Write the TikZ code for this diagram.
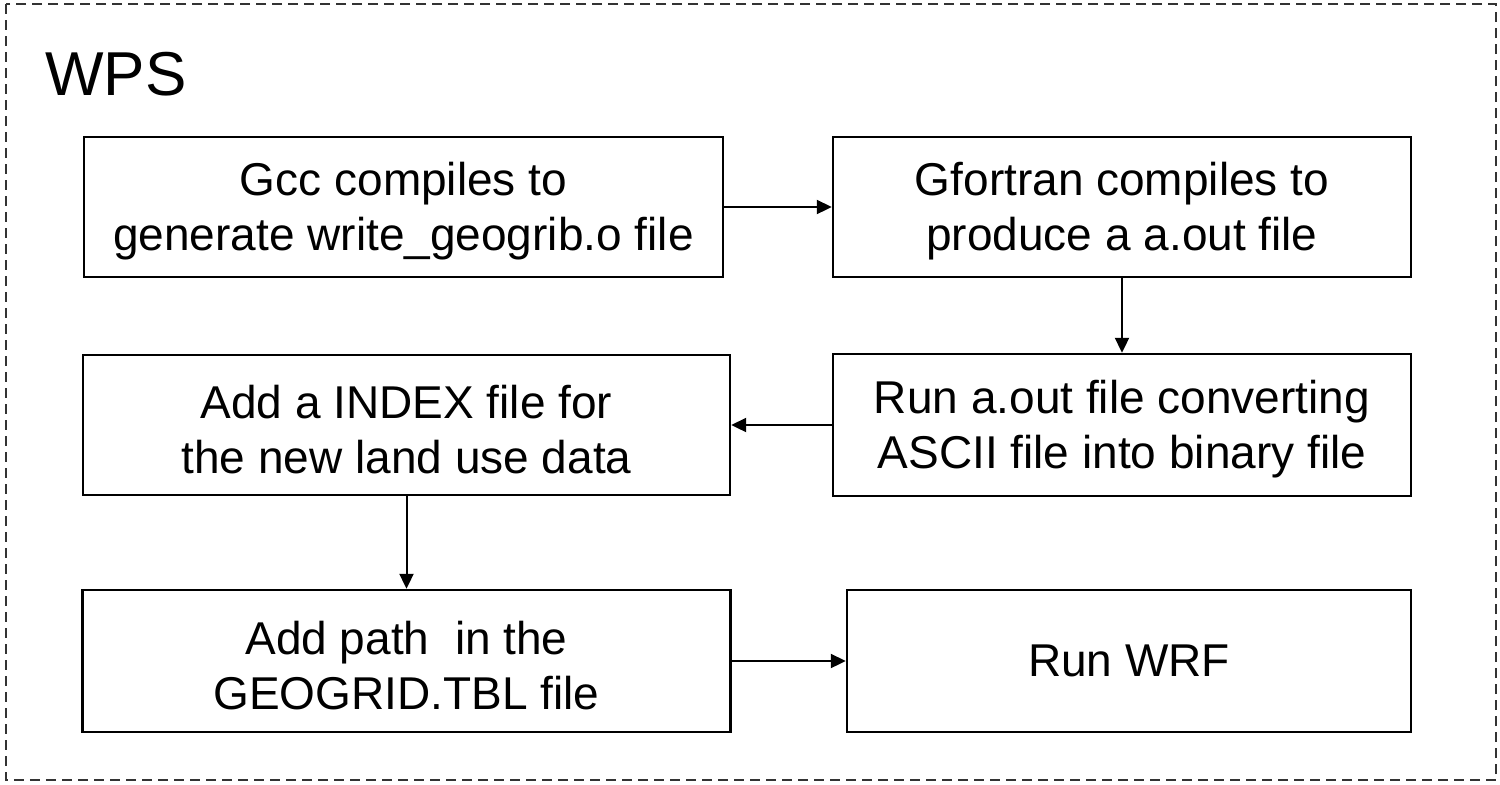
\documentclass[tikz,border=0pt]{standalone}
\usepackage{fontspec}
\setmainfont{Liberation Sans}
\usetikzlibrary{arrows.meta}
\newcommand{\mytopstrut}{\rule{0pt}{21pt}}
\begin{document}
\begin{tikzpicture}[x=0.5pt,y=-0.5pt,
  stepbox/.style={draw=black, line width=1.2pt, align=center, inner sep=0pt,
    font=\fontsize{23}{27.5}\selectfont},
  flow/.style={draw=black, line width=1pt, -{Triangle[length=7.5pt,width=7pt]}}]
\useasboundingbox (0,0) rectangle (1500,784);
\draw[line width=1pt, dash pattern=on 5pt off 3pt, draw=black!80] (6,4) rectangle (1496,780);
\node[anchor=base west, inner sep=0pt, font=\fontsize{31}{35}\selectfont] (title) at (45,95) {WPS};
\node[stepbox, minimum width=319.5pt, minimum height=70pt] (b1) at (403.5,207) {\mytopstrut Gcc compiles to\\generate write\_geogrib.o file};
\node[stepbox, minimum width=289pt, minimum height=70pt] (b2) at (1122,207) {\mytopstrut Gfortran compiles to\\produce a a.out file};
\node[stepbox, minimum width=289pt, minimum height=71pt] (b3) at (1122,425) {\mytopstrut Run a.out file converting\\ASCII file into binary file};
\node[stepbox, minimum width=323.5pt, minimum height=70pt] (b4) at (406.5,425) {\mytopstrut Add a INDEX file for\\the new land use data};
\node[stepbox, minimum width=324pt, minimum height=71pt] (b5) at (406.5,661) {\mytopstrut Add path\ \ in the\\GEOGRID.TBL file};
\node[stepbox, minimum width=282pt, minimum height=71pt] (b6) at (1129,661) {Run WRF};
\draw[flow] (b1.east) -- (b2.west);
\draw[flow] (b2.south) -- (b3.north);
\draw[flow] (b3.west) -- (b4.east);
\draw[flow] (b4.south) -- (b5.north);
\draw[flow] (b5.east) -- (b6.west);
\end{tikzpicture}
\end{document}
